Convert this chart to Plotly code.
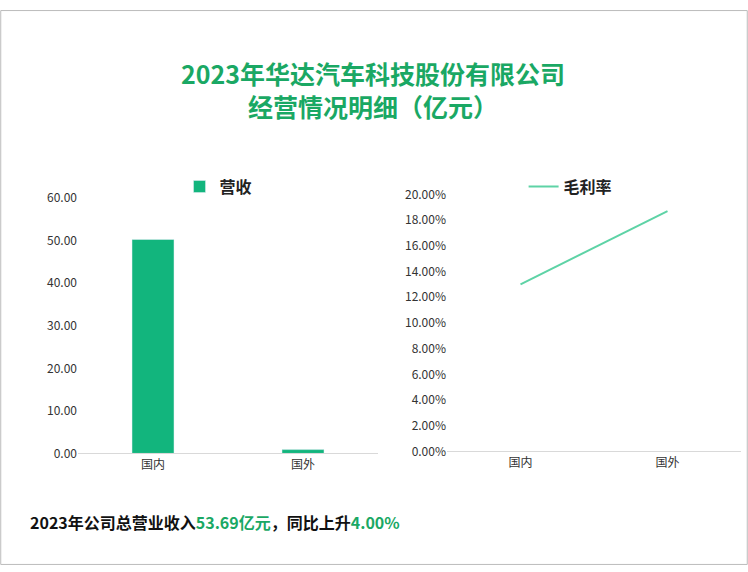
import plotly.graph_objects as go

categories = ["国内", "国外"]
revenue = [50.3, 0.9]
margin = [0.130, 0.187]

fig = go.Figure()
fig.add_trace(go.Bar(x=categories, y=revenue, name="<b>营收</b>", marker_color="#12b57d",
                     width=0.28, xaxis="x", yaxis="y", legend="legend"))
fig.add_trace(go.Scatter(x=categories, y=margin, name="<b>毛利率</b>", mode="lines",
                         line=dict(color="#5ed3a6", width=2), xaxis="x2", yaxis="y2", legend="legend2"))

W, H = 748, 572
fig.update_layout(
    width=W, height=H, margin=dict(l=0, r=0, t=0, b=0),
    paper_bgcolor="white", plot_bgcolor="white",
    font=dict(family="Noto Sans CJK SC", color="#333", size=12),
    xaxis=dict(domain=[78/W, 378/W], anchor="y", showline=True, linecolor="#d9d9d9",
               ticks="", showgrid=False),
    yaxis=dict(domain=[1-457/H, 1-194/H], range=[0, 60], dtick=10, tickformat=".2f",
               showgrid=False, zeroline=False, anchor="x"),
    xaxis2=dict(domain=[447/W, 741/W], anchor="y2", showline=True, linecolor="#d9d9d9",
                ticks="", showgrid=False, range=[-0.5, 1.5]),
    yaxis2=dict(domain=[1-455/H, 1-190/H], range=[0, 0.20], dtick=0.02, tickformat=".2%",
                showgrid=False, zeroline=False, anchor="x2"),
    legend=dict(x=0.24, y=1-182/H, yanchor="middle", orientation="h",
                font=dict(size=16, color="#222")),
    legend2=dict(x=0.70, y=1-182/H, yanchor="middle", orientation="h",
                 font=dict(size=16, color="#222")),
    showlegend=True,
    annotations=[
        dict(text="<b>2023年华达汽车科技股份有限公司<br>经营情况明细（亿元）</b>", x=373/W, y=1-82/H,
             xref="paper", yref="paper", yanchor="middle", showarrow=False,
             font=dict(size=25, color="#1aa864")),
        dict(text="<b>2023年公司总营业收入<span style='color:#1aa864'>53.69亿元</span>，同比上升<span style='color:#1aa864'>4.00%</span></b>",
             x=28/W, y=1-528/H, xref="paper", yref="paper", xanchor="left", yanchor="middle",
             showarrow=False, font=dict(size=16, color="#111")),
    ],
    shapes=[dict(type="rect", xref="paper", yref="paper", x0=0.001, y0=0.001, x1=0.999, y1=0.999,
                 line=dict(color="#bbbbbb", width=1))],
)
fig.write_html("out.html", config={"displayModeBar": False},
               post_script="document.body.style.margin='0';document.body.style.overflow='hidden';")
